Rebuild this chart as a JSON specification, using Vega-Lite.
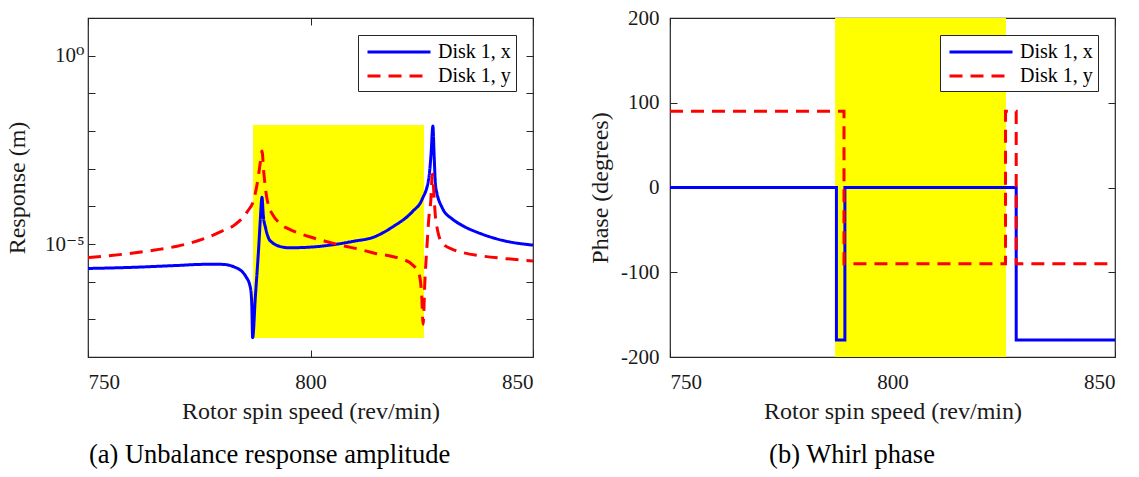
{
  "$schema": "https://vega.github.io/schema/vega-lite/v6.json",
  "padding": {"left": 4, "top": 6, "right": 4, "bottom": 2},
  "spacing": 52,
  "config": {
    "font": "Liberation Serif, Times New Roman, DejaVu Serif, serif",
    "view": {"stroke": "#262626", "strokeWidth": 1.2},
    "axis": {
      "grid": false,
      "domain": false,
      "tickColor": "#262626",
      "tickSize": -7,
      "labelFont": "Liberation Serif, Times New Roman, DejaVu Serif, serif",
      "labelFontSize": 21,
      "labelColor": "#1a1a1a",
      "titleFont": "Liberation Serif, Times New Roman, DejaVu Serif, serif",
      "titleFontSize": 24,
      "titleFontWeight": "normal",
      "titleColor": "#1a1a1a"
    },
    "legend": {
      "orient": "top-right",
      "offset": 17,
      "padding": 5,
      "strokeColor": "#262626",
      "fillColor": "white",
      "labelFont": "Liberation Serif, Times New Roman, DejaVu Serif, serif",
      "labelFontSize": 20,
      "labelColor": "#000000",
      "symbolType": "M-3,0H3",
      "symbolStrokeWidth": 3,
      "symbolSize": 441,
      "symbolOffset": 24,
      "labelOffset": 27,
      "rowPadding": 2
    },
    "title": {"font": "Liberation Serif, Times New Roman, DejaVu Serif, serif", "fontSize": 26.5, "fontWeight": "normal", "color": "#000000"}
  },
  "datasets": {
    "bgA": [{"x1": 787.1, "x2": 825.5, "y1": 3.2e-8, "y2": 0.0145}],
    "bgB": [{"x1": 787.1, "x2": 825.5, "y1": -200, "y2": 200}],
    "amp": [
      {"speed": 750, "series": "Disk 1, x", "value": 2.24e-6},
      {"speed": 760, "series": "Disk 1, x", "value": 2.40e-6},
      {"speed": 770, "series": "Disk 1, x", "value": 2.69e-6},
      {"speed": 776, "series": "Disk 1, x", "value": 2.88e-6},
      {"speed": 780.1, "series": "Disk 1, x", "value": 2.88e-6},
      {"speed": 783.1, "series": "Disk 1, x", "value": 2.40e-6},
      {"speed": 785.4, "series": "Disk 1, x", "value": 1.41e-6},
      {"speed": 786.5, "series": "Disk 1, x", "value": 6.92e-7},
      {"speed": 786.8, "series": "Disk 1, x", "value": 2.51e-7},
      {"speed": 787.0, "series": "Disk 1, x", "value": 3.24e-8},
      {"speed": 787.6, "series": "Disk 1, x", "value": 3.80e-7},
      {"speed": 788.4, "series": "Disk 1, x", "value": 9.77e-6},
      {"speed": 788.7, "series": "Disk 1, x", "value": 4.07e-5},
      {"speed": 789.1, "series": "Disk 1, x", "value": 1.74e-4},
      {"speed": 789.4, "series": "Disk 1, x", "value": 5.62e-5},
      {"speed": 789.9, "series": "Disk 1, x", "value": 2.69e-5},
      {"speed": 790.6, "series": "Disk 1, x", "value": 1.41e-5},
      {"speed": 791.4, "series": "Disk 1, x", "value": 1.10e-5},
      {"speed": 793, "series": "Disk 1, x", "value": 8.71e-6},
      {"speed": 795.1, "series": "Disk 1, x", "value": 7.94e-6},
      {"speed": 800.4, "series": "Disk 1, x", "value": 8.32e-6},
      {"speed": 805.6, "series": "Disk 1, x", "value": 9.77e-6},
      {"speed": 810, "series": "Disk 1, x", "value": 1.20e-5},
      {"speed": 813.9, "series": "Disk 1, x", "value": 1.48e-5},
      {"speed": 818.4, "series": "Disk 1, x", "value": 2.82e-5},
      {"speed": 822.9, "series": "Disk 1, x", "value": 7.24e-5},
      {"speed": 825.1, "series": "Disk 1, x", "value": 1.55e-4},
      {"speed": 826.6, "series": "Disk 1, x", "value": 5.75e-4},
      {"speed": 827.1, "series": "Disk 1, x", "value": 2.51e-3},
      {"speed": 827.5, "series": "Disk 1, x", "value": 1.35e-2},
      {"speed": 827.8, "series": "Disk 1, x", "value": 2.00e-3},
      {"speed": 828.1, "series": "Disk 1, x", "value": 3.55e-4},
      {"speed": 829.6, "series": "Disk 1, x", "value": 9.12e-5},
      {"speed": 831.9, "series": "Disk 1, x", "value": 4.57e-5},
      {"speed": 834, "series": "Disk 1, x", "value": 3.16e-5},
      {"speed": 838.6, "series": "Disk 1, x", "value": 1.82e-5},
      {"speed": 843, "series": "Disk 1, x", "value": 1.26e-5},
      {"speed": 850, "series": "Disk 1, x", "value": 9.33e-6},
      {"speed": 750, "series": "Disk 1, y", "value": 4.37e-6},
      {"speed": 758, "series": "Disk 1, y", "value": 5.37e-6},
      {"speed": 765, "series": "Disk 1, y", "value": 6.92e-6},
      {"speed": 770, "series": "Disk 1, y", "value": 8.71e-6},
      {"speed": 775.6, "series": "Disk 1, y", "value": 1.32e-5},
      {"speed": 780.1, "series": "Disk 1, y", "value": 2.19e-5},
      {"speed": 783.1, "series": "Disk 1, y", "value": 3.31e-5},
      {"speed": 785.8, "series": "Disk 1, y", "value": 7.24e-5},
      {"speed": 787.3, "series": "Disk 1, y", "value": 1.58e-4},
      {"speed": 788.2, "series": "Disk 1, y", "value": 5.37e-4},
      {"speed": 788.7, "series": "Disk 1, y", "value": 1.41e-3},
      {"speed": 789.1, "series": "Disk 1, y", "value": 2.95e-3},
      {"speed": 789.5, "series": "Disk 1, y", "value": 7.94e-4},
      {"speed": 789.9, "series": "Disk 1, y", "value": 2.82e-4},
      {"speed": 790.6, "series": "Disk 1, y", "value": 1.00e-4},
      {"speed": 791.4, "series": "Disk 1, y", "value": 6.31e-5},
      {"speed": 793.6, "series": "Disk 1, y", "value": 3.16e-5},
      {"speed": 795.1, "series": "Disk 1, y", "value": 2.51e-5},
      {"speed": 799.6, "series": "Disk 1, y", "value": 1.58e-5},
      {"speed": 803.5, "series": "Disk 1, y", "value": 1.17e-5},
      {"speed": 807.1, "series": "Disk 1, y", "value": 9.12e-6},
      {"speed": 811, "series": "Disk 1, y", "value": 7.24e-6},
      {"speed": 814.6, "series": "Disk 1, y", "value": 5.62e-6},
      {"speed": 818.4, "series": "Disk 1, y", "value": 4.68e-6},
      {"speed": 820.6, "series": "Disk 1, y", "value": 3.98e-6},
      {"speed": 822.9, "series": "Disk 1, y", "value": 2.82e-6},
      {"speed": 824.4, "series": "Disk 1, y", "value": 1.58e-6},
      {"speed": 825.0, "series": "Disk 1, y", "value": 3.98e-7},
      {"speed": 825.3, "series": "Disk 1, y", "value": 7.41e-8},
      {"speed": 825.7, "series": "Disk 1, y", "value": 1.00e-6},
      {"speed": 826.2, "series": "Disk 1, y", "value": 1.00e-5},
      {"speed": 826.6, "series": "Disk 1, y", "value": 5.01e-5},
      {"speed": 827.0, "series": "Disk 1, y", "value": 1.26e-4},
      {"speed": 827.4, "series": "Disk 1, y", "value": 7.08e-4},
      {"speed": 827.8, "series": "Disk 1, y", "value": 1.58e-4},
      {"speed": 828.1, "series": "Disk 1, y", "value": 5.01e-5},
      {"speed": 829.6, "series": "Disk 1, y", "value": 1.05e-5},
      {"speed": 831.9, "series": "Disk 1, y", "value": 7.24e-6},
      {"speed": 834, "series": "Disk 1, y", "value": 6.03e-6},
      {"speed": 838.6, "series": "Disk 1, y", "value": 4.79e-6},
      {"speed": 844, "series": "Disk 1, y", "value": 4.07e-6},
      {"speed": 850, "series": "Disk 1, y", "value": 3.55e-6}
    ],
    "phase": [
      {"speed": 750, "series": "Disk 1, x", "value": 0},
      {"speed": 787.4, "series": "Disk 1, x", "value": -180},
      {"speed": 789.3, "series": "Disk 1, x", "value": 0},
      {"speed": 827.8, "series": "Disk 1, x", "value": -180},
      {"speed": 850, "series": "Disk 1, x", "value": -180},
      {"speed": 750, "series": "Disk 1, y", "value": 90},
      {"speed": 789.1, "series": "Disk 1, y", "value": -90},
      {"speed": 825.4, "series": "Disk 1, y", "value": 90},
      {"speed": 827.8, "series": "Disk 1, y", "value": -90},
      {"speed": 850, "series": "Disk 1, y", "value": -90}
    ]
  },
  "hconcat": [
    {
      "width": 445,
      "height": 339,
      "title": {"text": "(a) Unbalance response amplitude", "orient": "bottom", "offset": 19, "baseline": "top", "frame": "bounds", "anchor": "middle"},
      "resolve": {"axis": {"x": "independent", "y": "independent"}},
      "layer": [
        {
          "data": {"name": "bgA"},
          "mark": {"type": "rect", "color": "#FFFF00"},
          "encoding": {
            "x": {"field": "x1", "type": "quantitative", "scale": {"domain": [750, 850], "nice": false, "zero": false},
                  "axis": {"orient": "bottom", "values": [750, 800, 850], "format": "d", "title": "Rotor spin speed (rev/min)", "labelPadding": 21, "titlePadding": 7}},
            "x2": {"field": "x2"},
            "y": {"field": "y1", "type": "quantitative", "scale": {"type": "log", "domain": [1e-8, 10], "nice": false},
                  "axis": {"orient": "left", "values": [1e-7, 1e-6, 1e-5, 1e-4, 1e-3, 1e-2, 1e-1, 1],
                           "labelExpr": "abs(log(datum.value)/LN10 + 5) < 0.01 ? '10⁻⁵' : (abs(log(datum.value)/LN10) < 0.01 ? '10⁰' : '')",
                           "title": "Response (m)", "labelPadding": 11, "titlePadding": 15}},
            "y2": {"field": "y2"}
          }
        },
        {
          "data": {"name": "amp"},
          "mark": {"type": "line", "strokeWidth": 3, "interpolate": "monotone", "clip": true},
          "encoding": {
            "x": {"field": "speed", "type": "quantitative", "scale": {"domain": [750, 850], "nice": false, "zero": false},
                  "axis": {"orient": "top", "values": [750, 800, 850], "labels": false, "title": null}},
            "y": {"field": "value", "type": "quantitative", "scale": {"type": "log", "domain": [1e-8, 10], "nice": false},
                  "axis": {"orient": "right", "values": [1e-7, 1e-6, 1e-5, 1e-4, 1e-3, 1e-2, 1e-1, 1], "labels": false, "title": null}},
            "color": {"field": "series", "type": "nominal", "scale": {"domain": ["Disk 1, x", "Disk 1, y"], "range": ["#0000FF", "#FF0000"]}, "legend": {"title": null}},
            "strokeDash": {"field": "series", "type": "nominal", "scale": {"domain": ["Disk 1, x", "Disk 1, y"], "range": [[1, 0], [13, 8]]}, "legend": {"title": null}}
          }
        }
      ]
    },
    {
      "width": 445,
      "height": 339,
      "title": {"text": "(b) Whirl phase", "orient": "bottom", "offset": 19, "baseline": "top", "frame": "bounds", "anchor": "middle"},
      "resolve": {"axis": {"x": "independent", "y": "independent"}},
      "layer": [
        {
          "data": {"name": "bgB"},
          "mark": {"type": "rect", "color": "#FFFF00"},
          "encoding": {
            "x": {"field": "x1", "type": "quantitative", "scale": {"domain": [750, 850], "nice": false, "zero": false},
                  "axis": {"orient": "bottom", "values": [750, 800, 850], "format": "d", "title": "Rotor spin speed (rev/min)", "labelPadding": 21, "titlePadding": 7}},
            "x2": {"field": "x2"},
            "y": {"field": "y1", "type": "quantitative", "scale": {"domain": [-200, 200], "nice": false, "zero": false},
                  "axis": {"orient": "left", "values": [-200, -100, 0, 100, 200], "labelExpr": "datum.value + ''", "title": "Phase (degrees)", "labelPadding": 18, "titlePadding": 8}},
            "y2": {"field": "y2"}
          }
        },
        {
          "data": {"name": "phase"},
          "mark": {"type": "line", "strokeWidth": 3, "interpolate": "step-after", "clip": true},
          "encoding": {
            "x": {"field": "speed", "type": "quantitative", "scale": {"domain": [750, 850], "nice": false, "zero": false},
                  "axis": {"orient": "top", "values": [750, 800, 850], "labels": false, "title": null}},
            "y": {"field": "value", "type": "quantitative", "scale": {"domain": [-200, 200], "nice": false, "zero": false},
                  "axis": {"orient": "right", "values": [-200, -100, 0, 100, 200], "labels": false, "title": null}},
            "color": {"field": "series", "type": "nominal", "scale": {"domain": ["Disk 1, x", "Disk 1, y"], "range": ["#0000FF", "#FF0000"]}, "legend": {"title": null}},
            "strokeDash": {"field": "series", "type": "nominal", "scale": {"domain": ["Disk 1, x", "Disk 1, y"], "range": [[1, 0], [13, 8]]}, "legend": {"title": null}}
          }
        }
      ]
    }
  ],
  "resolve": {"scale": {"color": "independent", "strokeDash": "independent", "y": "independent", "x": "independent"}, "legend": {"color": "independent", "strokeDash": "independent"}}
}
